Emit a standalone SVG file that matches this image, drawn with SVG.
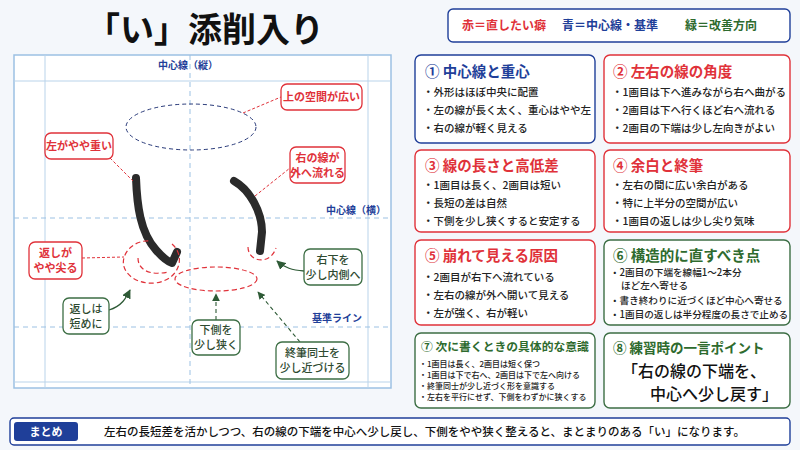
<svg xmlns="http://www.w3.org/2000/svg" width="800" height="450" viewBox="0 0 800 450">
<defs>
<style>
text{font-family:"Noto Sans CJK JP","Noto Sans",sans-serif;}
.grid{stroke:#b9d3ea;stroke-width:1;fill:none}
.gd{stroke:#9cc1e3;stroke-width:1;fill:none;stroke-dasharray:5 4}
.gl{fill:#1f3f99;font-size:10px;font-weight:700}
.rb{fill:#fff;stroke:#e0323a;stroke-width:1.3}
.gb{fill:#fff;stroke:#3c6e44;stroke-width:1.3}
.rt{fill:#e0323a;font-size:11px;font-weight:700;text-anchor:middle}
.gt{fill:#2e4a30;font-size:11px;font-weight:500;text-anchor:middle}
.rl{stroke:#e0323a;stroke-width:1;fill:none;stroke-dasharray:3 2}
.rd{stroke:#e0323a;stroke-width:1.2;fill:none;stroke-dasharray:5 3}
.ga{stroke:#2e5a36;stroke-width:1.3;fill:none;marker-end:url(#ah)}
.gda{stroke:#2e5a36;stroke-width:1.1;fill:none;stroke-dasharray:4 3;marker-end:url(#ah)}
.card{fill:#fff;stroke-width:1.4}
.h{font-size:14.5px;font-weight:700}
.b{fill:#222;font-size:10.5px;font-weight:500}
.b6{fill:#222;font-size:9.6px;font-weight:500}
.s{fill:#222;font-size:8px;font-weight:500}
.ink{stroke:#2b2b2b;stroke-linecap:round;stroke-linejoin:round;fill:none}
</style>
<marker id="ah" viewBox="0 0 10 10" refX="9" refY="5" markerWidth="7" markerHeight="7" orient="auto"><path d="M0,0L10,5L0,10z" fill="#2e5a36"/></marker>
</defs>
<rect width="800" height="450" fill="#f4f7fb"/>
<text x="205" y="42" text-anchor="middle" font-size="34" font-weight="700" fill="#111">「い」添削入り</text>
<g id="legend">
<rect x="448" y="9" width="342" height="33" rx="5" fill="#fff" stroke="#1f3f99" stroke-width="1.4"/>
<text x="462" y="30" font-size="12" font-weight="700" fill="#e0323a">赤＝直したい癖</text>
<text x="562" y="30" font-size="12" font-weight="700" fill="#1f3f99">青＝中心線・基準</text>
<text x="685" y="30" font-size="12" font-weight="700" fill="#2e6b2e">緑＝改善方向</text>
</g>
<g id="panel">
<rect x="14" y="55" width="377" height="333" fill="#fff" stroke="#9cc1e3" stroke-width="1.5"/>
<line class="grid" x1="45" y1="55" x2="45" y2="388"/>
<line class="grid" x1="368" y1="55" x2="368" y2="388"/>
<line class="grid" x1="14" y1="81" x2="391" y2="81"/>
<line class="grid" x1="14" y1="382" x2="391" y2="382"/>
<line class="gd" x1="190" y1="55" x2="190" y2="388"/>
<line class="gd" x1="14" y1="218" x2="391" y2="218"/>
<line class="gd" x1="14" y1="327" x2="391" y2="327"/>
<text class="gl" x="188" y="69" text-anchor="middle">中心線（縦）</text>
<text class="gl" x="386" y="214" text-anchor="end">中心線（横）</text>
<text class="gl" x="362" y="322" text-anchor="end">基準ライン</text>
</g>
<g id="strokes">
<path class="ink" stroke-width="8" d="M136,178 C137,205 140,232 156,250 C163,258 169,262 172,263 L177,252"/>
<path class="ink" stroke-width="8" d="M234,181 C250,190 262,212 262,232 L260,251"/>
</g>
<g id="marks">
<ellipse cx="191" cy="127" rx="65" ry="23" fill="none" stroke="#2a3b7a" stroke-width="1" stroke-dasharray="4 3"/>
<path class="rd" d="M172,244 C186,256 180,280 155,283 C134,285 118,270 125,255 C130,244 142,240 150,241"/>
<path class="rd" d="M138,258 C138,270 150,276 168,272"/>
<ellipse class="rd" cx="216" cy="279" rx="41" ry="12"/>
<path class="rd" d="M248,247 C248,262 270,266 276,248"/>
</g>
<g id="connectors">
<line class="rl" x1="243" y1="113" x2="281" y2="97"/>
<line class="rl" x1="110" y1="158" x2="133" y2="181"/>
<line class="rl" x1="255" y1="196" x2="290" y2="168"/>
<line class="rl" x1="82" y1="258" x2="124" y2="257"/>
<path class="ga" d="M304,271 C292,270 285,268 277,261"/>
<path class="ga" d="M109,310 C122,306 126,298 130,290"/>
<path class="gda" d="M216,320 L216,294"/>
<path class="gda" d="M300,342 L258,292"/>
</g>
<g id="n-top"><rect class="rb" x="281" y="84" width="81" height="26" rx="6"/><text class="rt" x="321.5" y="101">上の空間が広い</text></g>
<g id="n-left"><rect class="rb" x="45" y="133" width="68" height="26" rx="6"/><text class="rt" x="79" y="150">左がやや重い</text></g>
<g id="n-right"><rect class="rb" x="290" y="147" width="55" height="36" rx="6"/><text class="rt" x="317.5" y="162">右の線が</text><text class="rt" x="317.5" y="177">外へ流れる</text></g>
<g id="n-hook"><rect class="rb" x="29" y="242" width="53" height="37" rx="6"/><text class="rt" x="55.5" y="257">返しが</text><text class="rt" x="55.5" y="272">やや尖る</text></g>
<g id="n-rd"><rect class="gb" x="304" y="249" width="58" height="36" rx="6"/><text class="gt" x="333" y="264">右下を</text><text class="gt" x="333" y="279">少し内側へ</text></g>
<g id="n-short"><rect class="gb" x="63" y="298" width="46" height="36" rx="6"/><text class="gt" x="86" y="313">返しは</text><text class="gt" x="86" y="328">短めに</text></g>
<g id="n-narrow"><rect class="gb" x="192" y="320" width="48" height="35" rx="6"/><text class="gt" x="216" y="334">下側を</text><text class="gt" x="216" y="349">少し狭く</text></g>
<g id="n-end"><rect class="gb" x="276" y="342" width="73" height="37" rx="6"/><text class="gt" x="312.5" y="357">終筆同士を</text><text class="gt" x="312.5" y="372">少し近づける</text></g>
<g id="card1"><rect class="card" x="415" y="55" width="180" height="88" rx="6" stroke="#1f3f99"/><text class="h" x="425" y="77" fill="#1f3f99">① 中心線と重心</text>
<text class="b" x="423" y="96">・外形はほぼ中央に配置</text><text class="b" x="423" y="114">・左の線が長く太く、重心はやや左</text><text class="b" x="423" y="132">・右の線が軽く見える</text></g>
<g id="card2"><rect class="card" x="604" y="55" width="186" height="88" rx="6" stroke="#e0323a"/><text class="h" x="613" y="77" fill="#e0323a">② 左右の線の角度</text>
<text class="b" x="612" y="96">・1画目は下へ進みながら右へ曲がる</text><text class="b" x="612" y="114">・2画目は下へ行くほど右へ流れる</text><text class="b" x="612" y="132">・2画目の下端は少し左向きがよい</text></g>
<g id="card3"><rect class="card" x="415" y="150" width="180" height="82" rx="6" stroke="#e0323a"/><text class="h" x="425" y="171" fill="#e0323a">③ 線の長さと高低差</text>
<text class="b" x="423" y="189">・1画目は長く、2画目は短い</text><text class="b" x="423" y="207">・長短の差は自然</text><text class="b" x="423" y="225">・下側を少し狭くすると安定する</text></g>
<g id="card4"><rect class="card" x="604" y="150" width="186" height="82" rx="6" stroke="#e0323a"/><text class="h" x="613" y="171" fill="#e0323a">④ 余白と終筆</text>
<text class="b" x="612" y="189">・左右の間に広い余白がある</text><text class="b" x="612" y="207">・特に上半分の空間が広い</text><text class="b" x="612" y="225">・1画目の返しは少し尖り気味</text></g>
<g id="card5"><rect class="card" x="415" y="240" width="180" height="85" rx="6" stroke="#e0323a"/><text class="h" x="425" y="261" fill="#e0323a">⑤ 崩れて見える原因</text>
<text class="b" x="423" y="281">・2画目が右下へ流れている</text><text class="b" x="423" y="299">・左右の線が外へ開いて見える</text><text class="b" x="423" y="317">・左が強く、右が軽い</text></g>
<g id="card6"><rect class="card" x="604" y="240" width="186" height="85" rx="6" stroke="#3c6e44"/><text class="h" x="613" y="261" fill="#2e6b2e">⑥ 構造的に直すべき点</text>
<text class="b6" x="610" y="276">・2画目の下端を線幅1～2本分</text><text class="b6" x="621" y="289">ほど左へ寄せる</text><text class="b6" x="610" y="304">・書き終わりに近づくほど中心へ寄せる</text><text class="b6" x="610" y="318">・1画目の返しは半分程度の長さで止める</text></g>
<g id="card7"><rect class="card" x="415" y="333" width="180" height="75" rx="6" stroke="#3c6e44"/><text x="421" y="351" font-size="11.8" font-weight="700" fill="#2e6b2e">⑦ 次に書くときの具体的な意識</text>
<text class="s" x="419" y="367">・1画目は長く、2画目は短く保つ</text><text class="s" x="419" y="378">・1画目は下で右へ、2画目は下で左へ向ける</text><text class="s" x="419" y="389">・終筆同士が少し近づく形を意識する</text><text class="s" x="419" y="400">・左右を平行にせず、下側をわずかに狭くする</text></g>
<g id="card8"><rect class="card" x="604" y="333" width="186" height="75" rx="6" stroke="#3c6e44"/><text x="613" y="353" font-size="13.5" font-weight="700" fill="#2e6b2e">⑧ 練習時の一言ポイント</text>
<text x="622" y="377" font-size="16" font-weight="500" fill="#111">「右の線の下端を、</text><text x="650" y="400" font-size="16" font-weight="500" fill="#111">中心へ少し戻す」</text></g>
<g id="summary"><rect x="10" y="418" width="780" height="27" rx="4" fill="#fff" stroke="#1f3f99" stroke-width="1.4"/><rect x="14" y="422" width="64" height="19" rx="3" fill="#1f3f99"/><text x="46" y="436" text-anchor="middle" font-size="11" font-weight="700" fill="#fff">まとめ</text>
<text x="104" y="436" font-size="11.5" font-weight="500" fill="#111">左右の長短差を活かしつつ、右の線の下端を中心へ少し戻し、下側をやや狭く整えると、まとまりのある「い」になります。</text></g>
</svg>
